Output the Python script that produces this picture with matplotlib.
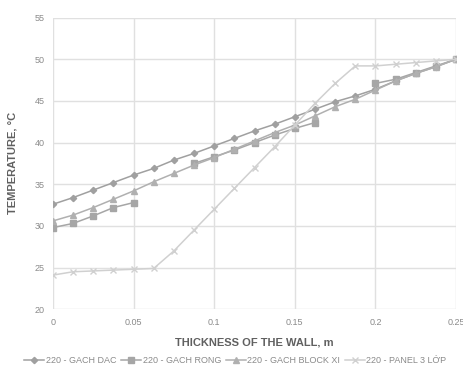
import numpy as np
import matplotlib.pyplot as plt

plt.rcParams['font.family'] = ['Liberation Sans', 'DejaVu Sans']

# wall thickness (m), one point every 12.5 mm
thickness = [0, 0.0125, 0.025, 0.0375, 0.05, 0.0625, 0.075, 0.0875, 0.1, 0.1125,
             0.125, 0.1375, 0.15, 0.1625, 0.175, 0.1875, 0.2, 0.2125, 0.225, 0.2375, 0.25]

gach_dac = [32.6, 33.4, 34.3, 35.2, 36.1, 36.9, 37.9, 38.7, 39.6, 40.5,
            41.4, 42.2, 43.1, 44.0, 44.9, 45.6, 46.4, 47.4, 48.3, 49.1, 50.0]
# hollow brick: no values inside the air cavities
gach_rong = [29.8, 30.3, 31.2, 32.2, 32.8, np.nan, np.nan, 37.5, 38.3, 39.1,
             40.0, 40.9, 41.7, 42.4, np.nan, np.nan, 47.1, 47.6, 48.4, 49.2, 50.0]
gach_block = [30.6, 31.3, 32.2, 33.2, 34.2, 35.3, 36.3, 37.3, 38.2, 39.2,
              40.2, 41.2, 42.1, 43.2, 44.3, 45.2, 46.3, 47.4, 48.3, 49.1, 50.0]
panel = [24.1, 24.5, 24.6, 24.7, 24.8, 24.9, 27.0, 29.5, 32.0, 34.5,
         37.0, 39.5, 42.1, 44.7, 47.1, 49.2, 49.2, 49.4, 49.6, 49.8, 50.0]

labels = ["220 - GACH DAC", "220 - GACH RONG", "220 - GACH BLOCK XI", "220 - PANEL 3 LỚP"]

fig = plt.figure(figsize=(4.64, 3.66), dpi=100)
ax = fig.add_axes([0.114, 0.155, 0.869, 0.797])

ax.plot(thickness, gach_dac, color="#a0a0a0", lw=1.1, marker="D", ms=3.2, label=labels[0])
ax.plot(thickness, gach_rong, color="#a6a6a6", lw=1.1, marker="s", ms=4, label=labels[1])
ax.plot(thickness, gach_block, color="#b0b0b0", lw=1.1, marker="^", ms=4, label=labels[2])
ax.plot(thickness, panel, color="#d0d0d0", lw=1.1, marker="x", ms=4.5, mew=1, label=labels[3])

ax.set_xlim(0, 0.25)
ax.set_ylim(20, 55)
ax.set_xticks([0, 0.05, 0.1, 0.15, 0.2, 0.25])
ax.set_xticklabels(["0", "0.05", "0.1", "0.15", "0.2", "0.25"])
ax.set_yticks(range(20, 56, 5))
ax.grid(True, color="#e0e0e0", lw=1)
ax.set_axisbelow(True)
for s in ax.spines.values():
    s.set_visible(False)
ax.tick_params(length=0, labelsize=6.5, colors="#8a8a8a", pad=6)

ax.set_xlabel("THICKNESS OF THE WALL, m", fontsize=8, fontweight="bold", color="#606060", labelpad=8)
ax.set_ylabel("TEMPERATURE, °C", fontsize=8, fontweight="bold", color="#606060", labelpad=12)

fig.legend(loc="center left", bbox_to_anchor=(0.045, 0.014), ncol=4, frameon=False,
           fontsize=6.5, labelcolor="#8a8a8a", handlelength=2.2, handletextpad=0.2,
           columnspacing=0.5, borderaxespad=0)

fig.savefig("out.png", dpi=100)
